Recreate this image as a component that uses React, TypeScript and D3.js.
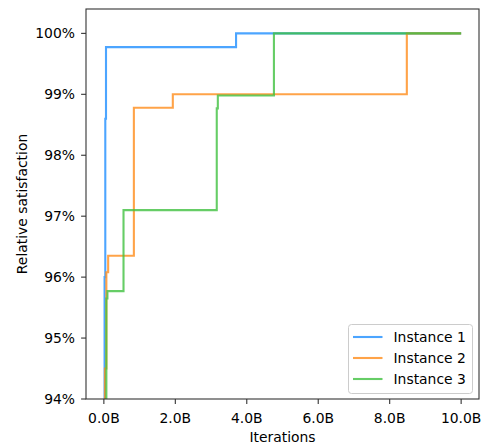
import React from "react";
import * as d3 from "d3";

// Iterations (billions) and relative satisfaction (%) for each instance
const instance1X = [0, 0.02, 0.04, 0.06, 3.7, 10];
const instance1Y = [90, 96.0, 98.6, 99.775, 100, 100];
const instance2X = [0, 0.03, 0.07, 0.12, 0.84, 1.93, 8.48, 10];
const instance2Y = [90, 94.5, 96.08, 96.35, 98.78, 99.0, 100, 100];
const instance3X = [0, 0.07, 0.1, 0.55, 3.16, 3.19, 4.76, 10];
const instance3Y = [90, 95.65, 95.77, 97.1, 98.77, 98.98, 100, 100];

const seriesNames = ["Instance 1", "Instance 2", "Instance 3"];
const seriesColors = ["#1f8fff", "#ff8c1a", "#40c040"];

const xTicks = [0, 2, 4, 6, 8, 10];
const yTicks = [94, 95, 96, 97, 98, 99, 100];

const W = 483;
const H = 447;
const M = { left: 86, right: 479, top: 9, bottom: 399 };
const FONT = "DejaVu Sans, sans-serif";

export default function App() {
  const x = d3.scaleLinear().domain([-0.5, 10.5]).range([M.left, M.right]);
  const y = d3.scaleLinear().domain([94, 100.4]).range([M.bottom, M.top]);

  const series = [
    d3.zip(instance1X, instance1Y),
    d3.zip(instance2X, instance2Y),
    d3.zip(instance3X, instance3Y),
  ];

  const line = d3
    .line<number[]>()
    .x((d) => x(d[0]))
    .y((d) => y(d[1]))
    .curve(d3.curveStepAfter);

  const legendX = 348.5;
  const legendY = 324.5;

  return (
    <div style={{ position: "absolute", left: 0, top: 0 }}>
      <svg width={W} height={H} style={{ display: "block", background: "#fff" }}>
        <defs>
          <clipPath id="plot-area">
            <rect x={M.left} y={M.top} width={M.right - M.left} height={M.bottom - M.top} />
          </clipPath>
        </defs>

        <g clipPath="url(#plot-area)">
          {series.map((s, i) => (
            <path
              key={seriesNames[i]}
              d={line(s) || ""}
              fill="none"
              stroke={seriesColors[i]}
              strokeOpacity={0.8}
              strokeWidth={2.1}
            />
          ))}
        </g>

        {/* frame */}
        <rect
          x={M.left}
          y={M.top}
          width={M.right - M.left}
          height={M.bottom - M.top}
          fill="none"
          stroke="#333"
          strokeWidth={1.1}
        />

        {/* x axis */}
        {xTicks.map((t) => (
          <g key={"x" + t}>
            <line x1={x(t)} x2={x(t)} y1={M.bottom} y2={M.bottom + 4.9} stroke="#333" strokeWidth={1.1} />
            <text
              x={x(t)}
              y={M.bottom + 24}
              textAnchor="middle"
              fontFamily={FONT}
              fontSize={13.9}
              fill="#000"
            >
              {t.toFixed(1) + "B"}
            </text>
          </g>
        ))}
        <text
          x={(M.left + M.right) / 2}
          y={442}
          textAnchor="middle"
          fontFamily={FONT}
          fontSize={13.9}
          fill="#000"
        >
          Iterations
        </text>

        {/* y axis */}
        {yTicks.map((t) => (
          <g key={"y" + t}>
            <line x1={M.left - 4.9} x2={M.left} y1={y(t)} y2={y(t)} stroke="#333" strokeWidth={1.1} />
            <text
              x={M.left - 11}
              y={y(t)}
              dy="0.35em"
              textAnchor="end"
              fontFamily={FONT}
              fontSize={13.9}
              fill="#000"
            >
              {t + "%"}
            </text>
          </g>
        ))}
        <text
          transform={`translate(27, ${(M.top + M.bottom) / 2}) rotate(-90)`}
          textAnchor="middle"
          fontFamily={FONT}
          fontSize={13.9}
          fill="#000"
        >
          Relative satisfaction
        </text>

        {/* legend */}
        <rect
          x={legendX}
          y={legendY}
          width={124}
          height={69}
          rx={3}
          fill="#fff"
          fillOpacity={0.8}
          stroke="#ccc"
          strokeWidth={1}
        />
        {seriesNames.map((name, i) => {
          const ly = legendY + 12.5 + i * 21;
          return (
            <g key={"legend" + name}>
              <line
                x1={legendX + 4.5}
                x2={legendX + 34}
                y1={ly}
                y2={ly}
                stroke={seriesColors[i]}
                strokeOpacity={0.8}
                strokeWidth={2.1}
              />
              <text
                x={legendX + 45}
                y={ly}
                dy="0.35em"
                fontFamily={FONT}
                fontSize={13.9}
                fill="#000"
              >
                {name}
              </text>
            </g>
          );
        })}
      </svg>
    </div>
  );
}
